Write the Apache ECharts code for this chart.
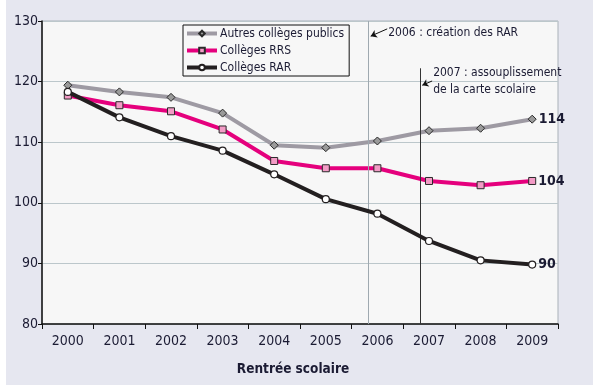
<!DOCTYPE html>
<html>
<head>
<meta charset="utf-8">
<script src="https://cdn.jsdelivr.net/npm/echarts@6/dist/echarts.min.js"></script>
<style>
html,body{margin:0;padding:0;background:#fff;width:597px;height:387px;overflow:hidden}
#bg{position:absolute;left:6px;top:0;width:587px;height:385px;background:#e6e7f0}
#chart{position:absolute;left:0;top:0;width:597px;height:387px}
</style>
</head>
<body>
<div id="bg"></div>
<div id="chart"></div>
<script>
const categories = ['2000','2001','2002','2003','2004','2005','2006','2007','2008','2009'];
const autres = [119.4, 118.3, 117.4, 114.8, 109.5, 109.1, 110.2, 111.9, 112.3, 113.8];
const rrs    = [117.7, 116.1, 115.1, 112.1, 106.9, 105.7, 105.7, 103.6, 102.9, 103.6];
const rar    = [118.3, 114.1, 111.0, 108.6, 104.7, 100.6, 98.2, 93.7, 90.5, 89.8];
const seriesNames = ['Autres collèges publics', 'Collèges RRS', 'Collèges RAR'];
const yTicks = [80, 90, 100, 110, 120, 130];
const xAxisTitle = 'Rentrée scolaire';
const note2006 = '2006 : création des RAR';
const note2007 = ['2007 : assouplissement', 'de la carte scolaire'];
// annotation anchors in data units (hidden continuous x axis 0..10, y axis 80..130)
const line2006 = [[6.32, 130], [6.32, 80]];
const line2007 = [[7.33, 122.2], [7.33, 80]];
const arrow2006 = [[6.69, 128.7], [6.37, 127.5]];
const arrow2007 = [[7.56, 120.1], [7.37, 119.4]];
const text2006Pos = [6.71, 128.0];
const text2007Pos = [7.58, 120.0];

const FONT = "'Liberation Sans Narrow', 'DejaVu Sans Condensed', 'Roboto', sans-serif";
const TXT = '#1b1b33';

function withEndLabel(arr) {
  return arr.map((v, i) => i === arr.length - 1 ? {
    value: v,
    label: { show: true, position: 'right', distance: 2, formatter: p => Math.round(p.value),
      fontFamily: FONT, fontWeight: 'bold', fontSize: 14, color: TXT }
  } : v);
}

const chart = echarts.init(document.getElementById('chart'), null, {renderer: 'canvas'});
chart.setOption({
  backgroundColor: 'transparent',
  animation: false,
  textStyle: { fontFamily: FONT },
  grid: { left: 42, right: 39, top: 21, bottom: 63, show: true, backgroundColor: '#f7f7f7', borderColor: '#a9b1b8', borderWidth: 1 },
  legend: {
    orient: 'vertical', left: 183, top: 25,
    data: seriesNames,
    backgroundColor: '#f7f7f7', borderColor: '#111', borderWidth: 1,
    padding: [2, 5, 2, 2],
    itemWidth: 30, itemHeight: 7, itemGap: 4,
    lineStyle: { width: 4 },
    textStyle: { fontFamily: FONT, fontSize: 12, color: TXT, padding: [0,0,0,-2], lineHeight: 13 }
  },
  xAxis: [{
    type: 'category', data: categories, boundaryGap: true,
    axisLine: { lineStyle: { color: '#111', width: 1.5 } },
    axisTick: { show: true, length: 5, interval: 0, lineStyle: { color: '#111' } },
    axisLabel: { fontFamily: FONT, fontSize: 14, color: TXT, margin: 10, interval: 0 },
    name: xAxisTitle, nameLocation: 'middle', nameGap: 38,
    nameTextStyle: { fontFamily: FONT, fontSize: 13.5, fontWeight: 'bold', color: TXT, padding: [0, 14, 0, 0] }
  }, {
    type: 'value', min: 0, max: 10, show: false
  }],
  yAxis: {
    type: 'value', min: yTicks[0], max: yTicks[yTicks.length-1], interval: 10,
    axisLine: { show: true, lineStyle: { color: '#111', width: 1.5 } },
    axisTick: { show: true, length: 4, lineStyle: { color: '#111' } },
    axisLabel: { fontFamily: FONT, fontSize: 14, color: TXT, margin: 4 },
    splitLine: { lineStyle: { color: '#bcc7cb', width: 1 } }
  },
  series: [
    {
      name: seriesNames[0], type: 'line', data: withEndLabel(autres),
      lineStyle: { color: '#9e9aa3', width: 4 }, itemStyle: { color: '#9a9a9a', borderColor: '#2a2a2a', borderWidth: 1 },
      symbol: 'diamond', symbolSize: 8, showAllSymbol: true, z: 3
    },
    {
      name: seriesNames[1], type: 'line', data: withEndLabel(rrs),
      lineStyle: { color: '#e5007d', width: 4 }, itemStyle: { color: '#f39bc6', borderColor: '#2a2a2a', borderWidth: 1 },
      symbol: 'rect', symbolSize: 7, showAllSymbol: true, z: 4
    },
    {
      name: seriesNames[2], type: 'line', data: withEndLabel(rar),
      lineStyle: { color: '#231f20', width: 4 }, itemStyle: { color: '#ffffff', borderColor: '#231f20', borderWidth: 1.2 },
      symbol: 'circle', symbolSize: 7, showAllSymbol: true, z: 5
    },
    {
      name: 'annotations', type: 'line', xAxisIndex: 1, data: [], z: 2,
      markLine: {
        silent: true, symbol: ['none', 'none'], animation: false,
        label: { show: false },
        data: [
          [{ coord: line2006[0], lineStyle: { color: '#9fa9b0', width: 1, type: 'solid' } }, { coord: line2006[1] }],
          [{ coord: line2007[0], lineStyle: { color: '#333', width: 1, type: 'solid' } }, { coord: line2007[1] }]
        ]
      }
    },
    {
      name: 'arrows', type: 'line', xAxisIndex: 1, data: [], z: 6,
      markLine: {
        silent: true, symbol: ['none', 'arrow'], symbolSize: 6, animation: false,
        label: { show: false },
        lineStyle: { color: '#111', width: 1, type: 'solid' },
        data: [
          [{ coord: arrow2006[0] }, { coord: arrow2006[1] }],
          [{ coord: arrow2007[0] }, { coord: arrow2007[1] }]
        ]
      },
      markPoint: {
        silent: true, symbol: 'circle', symbolSize: 0, animation: false,
        label: { show: true, position: 'right', distance: 0, fontFamily: FONT, fontSize: 12, color: TXT, lineHeight: 17 },
        data: [
          { coord: text2006Pos, label: { formatter: note2006 } },
          { coord: text2007Pos, label: { formatter: note2007.join('\n') } }
        ]
      }
    }
  ]
});
</script>
</body>
</html>
